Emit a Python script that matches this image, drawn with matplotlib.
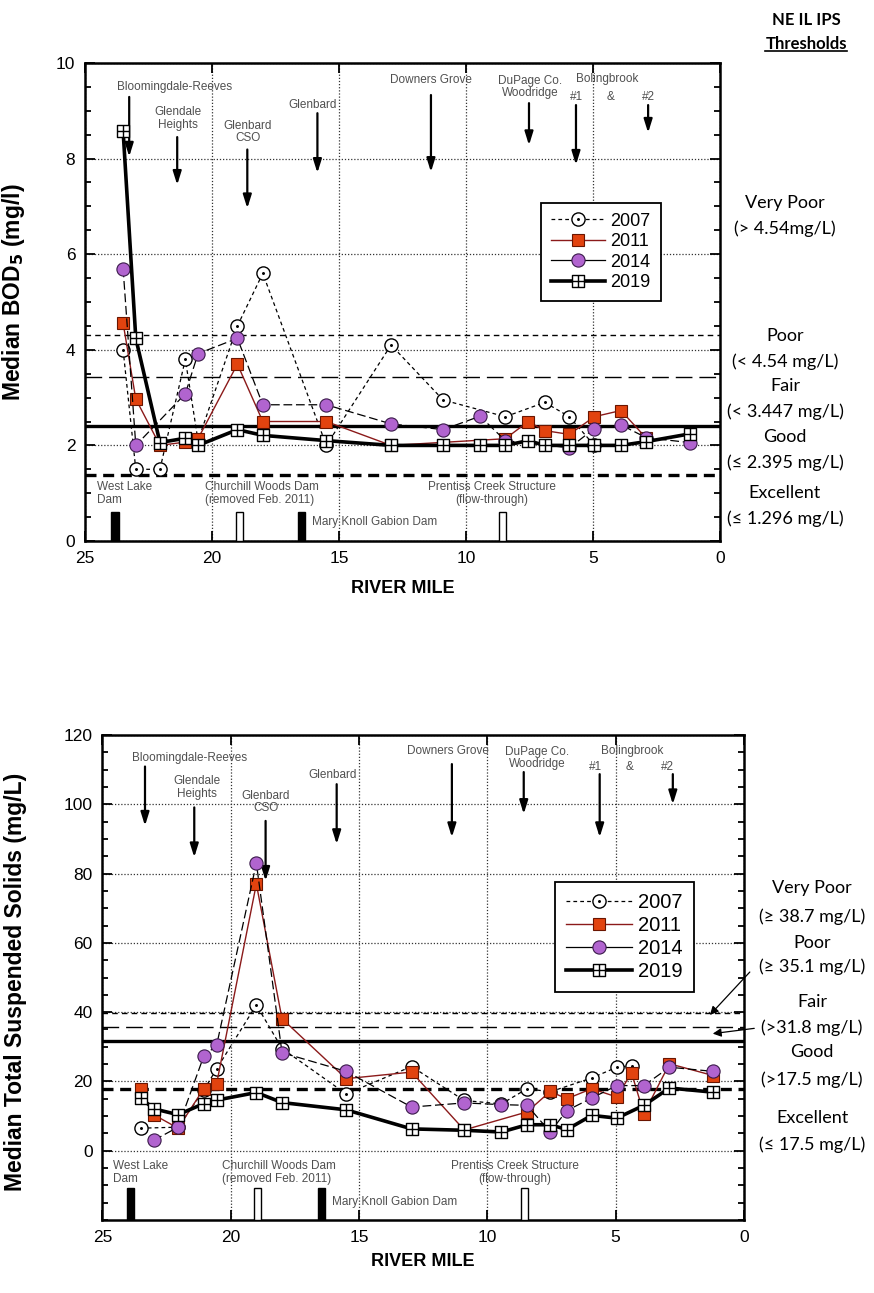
import numpy as np
import matplotlib
matplotlib.use("Agg")
import matplotlib.pyplot as plt
from matplotlib.path import Path
from matplotlib.lines import Line2D
from matplotlib.ticker import MultipleLocator

# ---------------- data ----------------
miles = [23.5, 23.0, 22.05, 21.05, 20.55, 19.0, 18.0, 15.5, 12.95, 10.9,
         9.45, 8.45, 7.55, 6.9, 5.93, 4.95, 4.38, 3.9, 2.9, 1.2]
nan = np.nan
bod_2007 = [4.0, 1.5, 1.5, 3.8, 2.1, 4.5, 5.6, 2.0, 4.1, 2.95,
            nan, 2.6, nan, 2.9, 2.6, 2.0, nan, nan, nan, nan]
bod_2011 = [4.56, 2.97, 2.0, 2.07, 2.14, 3.7, 2.5, 2.5, 2.0, nan,
            nan, 2.14, 2.5, 2.31, 2.23, 2.6, nan, 2.73, 2.15, nan]
bod_2014 = [5.7, 2.0, nan, 3.08, 3.92, 4.24, 2.85, 2.85, 2.45, 2.33,
            2.61, 2.1, nan, nan, 1.95, 2.35, nan, 2.43, 2.16, 2.06]
bod_2019 = [8.58, 4.24, 2.06, 2.15, 2.0, 2.33, 2.21, 2.1, 2.0, 2.0,
            2.0, 2.0, 2.1, 2.0, 2.0, 2.0, nan, 2.0, 2.08, 2.24]

tss_2007 = [6.5, nan, 6.8, 17.5, 23.6, 42.1, 29.5, 16.4, 24.3, 14.5,
            13.5, 17.9, 17.0, nan, 21.0, 24.1, 24.5, nan, nan, nan]
tss_2011 = [17.7, 10.4, 6.5, 17.9, 19.3, 77.0, 38.1, 20.8, 22.7, 6.0,
            nan, 11.2, 17.1, 15.0, 17.9, 15.5, 22.5, 10.7, 25.1, 21.7]
tss_2014 = [nan, 3.0, 6.8, 27.3, 30.4, 83.0, 28.3, 22.9, 12.6, 13.8,
            13.3, 13.1, 5.4, 11.6, 15.2, 18.8, nan, 18.8, 24.1, 22.9]
tss_2019 = [15.2, 12.1, 10.4, 13.6, 14.6, 16.8, 13.9, 11.8, 6.3, 5.9,
            5.4, 7.5, 7.5, 6.1, 10.2, 9.4, nan, 13.1, 18.1, 16.9]

years = ["2007", "2011", "2014", "2019"]
bod_thresholds = [4.3, 3.43, 2.4, 1.38]     # drawn lines (VP, Poor/Fair, Good, Excellent)
tss_thresholds = [39.7, 35.7, 31.6, 17.8]

dam_names = ["West Lake\nDam", "Churchill Woods Dam\n(removed Feb. 2011)",
             "Mary Knoll Gabion Dam", "Prentiss Creek Structure\n(flow-through)"]
dam_miles_top = [23.82, 18.9, 16.46, 8.58]
dam_miles_bot = [23.92, 18.94, 16.45, 8.54]
dam_filled = [True, False, True, False]

# ---------------- styles ----------------
RED = "#E2430F"
PURPLE = "#B164CF"
GRAY = "#505050"
TXT = ["Liberation Sans Narrow", "Liberation Sans", "DejaVu Sans"]
CAL = ["Lato", "DejaVu Sans"]
plt.rcParams["font.family"] = ["Liberation Sans", "DejaVu Sans"]

circ_dot = Path.make_compound_path(Path.unit_circle(), Path.circle((0, 0), 0.12))
sq_plus = Path([(-1, -1), (1, -1), (1, 1), (-1, 1), (-1, -1), (0, -1), (0, 1), (-1, 0), (1, 0)],
               [Path.MOVETO, Path.LINETO, Path.LINETO, Path.LINETO, Path.CLOSEPOLY,
                Path.MOVETO, Path.LINETO, Path.MOVETO, Path.LINETO])

MS = 9
styles = {
    "2007": dict(color="black", lw=0.9, ls=(0, (3, 2.5)), marker=circ_dot, mfc="white", mec="black", mew=1.0, ms=MS + 0.5, zorder=4),
    "2011": dict(color="#8B1A1A", lw=1.0, ls="-", marker="s", mfc=RED, mec="#6a1500", mew=0.8, ms=MS, zorder=5),
    "2014": dict(color="black", lw=0.9, ls=(0, (7, 3)), marker="o", mfc=PURPLE, mec="#3a1a4a", mew=0.8, ms=MS + 0.5, zorder=6),
    "2019": dict(color="black", lw=2.6, ls="-", marker=sq_plus, mfc="white", mec="black", mew=1.0, ms=MS, zorder=7),
}

fig = plt.figure(figsize=(8.74, 12.93), dpi=100)
W, H = 874.0, 1293.0
ax1 = fig.add_axes([85 / W, 1 - 541 / H, 635 / W, 478 / H])
ax2 = fig.add_axes([102.4 / W, 1 - 1220 / H, 641.5 / W, 485 / H])


def plot_series(ax, vals_list):
    x = np.array(miles)
    for yr, vals in zip(years, vals_list):
        v = np.array(vals, dtype=float)
        m = ~np.isnan(v)
        ax.plot(x[m], v[m], **styles[yr])


def style_axes(ax, ymin, ymax, ymaj, ymin_step):
    ax.set_xlim(25, 0)
    ax.set_ylim(ymin, ymax)
    ax.xaxis.set_major_locator(MultipleLocator(5))
    ax.yaxis.set_major_locator(MultipleLocator(ymaj))
    ax.yaxis.set_minor_locator(MultipleLocator(ymin_step))
    ax.tick_params(which="both", direction="in", top=True, right=True, labelsize=12.5, width=1.3)
    ax.tick_params(which="major", length=7, pad=7)
    ax.tick_params(which="minor", length=4)
    ax.tick_params(axis="x", which="minor", bottom=False, top=False)
    for s in ax.spines.values():
        s.set_linewidth(1.8)
    ax.grid(True, which="major", ls=(0, (1, 1.5)), lw=0.9, color="#333333")


def thresholds(ax, vals):
    ax.axhline(vals[0], color="black", lw=1.0, ls=(0, (4, 3)), zorder=2)
    ax.axhline(vals[1], color="black", lw=1.0, ls=(0, (12, 5)), zorder=2)
    ax.axhline(vals[2], color="black", lw=2.4, ls="-", zorder=2)
    ax.axhline(vals[3], color="black", lw=2.4, ls=(0, (3.3, 2)), zorder=2)


def arrows(ax, arrs):
    for x, y0, y1 in arrs:
        ax.annotate("", xy=(x, y1), xytext=(x, y0),
                    arrowprops=dict(arrowstyle="-|>,head_length=0.8,head_width=0.25",
                                    color="black", lw=1.6, shrinkA=0, shrinkB=0), zorder=3)


def labels(ax, labs):
    for t, x, y in labs:
        ax.text(x, y, t, ha="center", va="center", fontsize=8.5, color=GRAY,
                family=TXT, linespacing=1.05, zorder=3)


def dams(ax, xs, y0, h, name_pos):
    for x, f in zip(xs, dam_filled):
        ax.bar(x, h, width=0.28, bottom=y0, color="black" if f else "white",
               edgecolor="black", linewidth=1.0, zorder=3)
    for name, (x, y, ha) in zip(dam_names, name_pos):
        ax.text(x, y, name, ha=ha, va="center", fontsize=8.5, color=GRAY,
                family=TXT, linespacing=1.15, zorder=3)


# ---------------- top chart ----------------
style_axes(ax1, 0, 10, 2, 0.5)
thresholds(ax1, bod_thresholds)
plot_series(ax1, [bod_2007, bod_2011, bod_2014, bod_2019])
labels(ax1, [("Bloomingdale-Reeves", 21.46, 9.49), ("Glendale\nHeights", 21.33, 8.84),
             ("Glenbard\nCSO", 18.59, 8.56), ("Glenbard", 16.04, 9.12),
             ("Downers Grove", 11.38, 9.64), ("DuPage Co.\nWoodridge", 7.48, 9.5),
             ("Bolingbrook", 4.45, 9.66), ("#1", 5.63, 9.29), ("&", 4.29, 9.29), ("#2", 2.83, 9.29)])
arrows(ax1, [(23.26, 9.29, 8.04), (21.37, 8.45, 7.45), (18.61, 8.19, 6.96), (15.85, 8.95, 7.7),
             (11.38, 9.33, 7.72), (7.52, 9.16, 8.28), (5.67, 9.12, 7.87), (2.83, 9.12, 8.54)])
dams(ax1, dam_miles_top, 0, 0.6,
     [(24.53, 1.0, "left"), (20.28, 1.0, "left"), (16.06, 0.4, "left"), (8.98, 1.0, "center")])
ax1.set_xlabel("RIVER MILE", fontsize=13, fontweight="bold")
ax1.xaxis.set_label_coords(0.5, -0.082)
ax1.set_ylabel(r"Median BOD$_\mathbf{5}$ (mg/l)", fontsize=16.5, fontweight="bold")
ax1.yaxis.set_label_coords(-0.092, 0.52)

# ---------------- bottom chart ----------------
style_axes(ax2, -20, 120, 20, 5)
ax2.set_yticks([0, 20, 40, 60, 80, 100, 120])
ax2.set_yticks(np.arange(-20, 121, 5), minor=True)
thresholds(ax2, tss_thresholds)
plot_series(ax2, [tss_2007, tss_2011, tss_2014, tss_2019])
labels(ax2, [("Bloomingdale-Reeves", 21.59, 113.5), ("Glendale\nHeights", 21.33, 104.9),
             ("Glenbard\nCSO", 18.63, 100.6), ("Glenbard", 16.03, 108.4),
             ("Downers Grove", 11.53, 115.3), ("DuPage Co.\nWoodridge", 8.07, 113.3),
             ("Bolingbrook", 4.37, 115.3), ("#1", 5.77, 110.7), ("&", 4.45, 110.7), ("#2", 2.97, 110.7)])
arrows(ax2, [(23.34, 110.9, 93.8), (21.42, 99.1, 84.7), (18.64, 95.2, 77.9), (15.87, 105.8, 88.5),
             (11.38, 111.6, 90.5), (8.58, 109.3, 97.2), (5.62, 108.7, 90.5), (2.77, 108.7, 100)])
dams(ax2, dam_miles_bot, -20, 9.3,
     [(24.59, -6.2, "left"), (20.34, -6.2, "left"), (16.06, -14.7, "left"), (8.93, -6.2, "center")])
ax2.set_xlabel("RIVER MILE", fontsize=13, fontweight="bold")
ax2.xaxis.set_label_coords(0.5, -0.068)
ax2.set_ylabel("Median Total Suspended Solids (mg/L)", fontsize=16.5, fontweight="bold")
ax2.yaxis.set_label_coords(-0.117, 0.49)

# ---------------- legends ----------------
handles = [Line2D([], [], **{k: v for k, v in styles[y].items() if k != "zorder"}) for y in years]
handles[2].set_linestyle("-")
for ax, anchor, fs, hl in [(ax1, (0.718, 0.708), 13, 3.0), (ax2, (0.705, 0.697), 14.5, 3.3)]:
    lg = ax.legend(handles, years, loc="upper left", bbox_to_anchor=anchor, fontsize=fs,
                   frameon=True, fancybox=False, framealpha=1, edgecolor="black",
                   handlelength=hl, handletextpad=0.3, labelspacing=0.2, borderpad=0.55,
                   borderaxespad=0)
    lg.get_frame().set_linewidth(1.3)
    lg.set_zorder(10)

# ---------------- right side threshold texts ----------------
def ftext(px, py, s, **kw):
    return fig.text(px / W, 1 - py / H, s, ha="center", va="center", family=CAL, **kw)

ftext(806, 20, "NE IL IPS", fontsize=12, fontweight="bold")
t_th = ftext(806, 44, "Thresholds", fontsize=12, fontweight="bold")

top_texts = [("Very Poor", 203), ("(> 4.54mg/L)", 229), ("Poor", 336), ("(< 4.54 mg/L)", 362),
             ("Fair", 386), ("(< 3.447 mg/L)", 412), ("Good", 437), ("(\u2264 2.395 mg/L)", 463),
             ("Excellent", 493), ("(\u2264 1.296 mg/L)", 519)]
for s, py in top_texts:
    ftext(785, py, s, fontsize=13)

bot_texts = [("Very Poor", 888), ("(\u2265 38.7 mg/L)", 917), ("Poor", 943), ("(\u2265 35.1 mg/L)", 967),
             ("Fair", 1002), ("(>31.8 mg/L)", 1028), ("Good", 1052), ("(>17.5 mg/L)", 1080),
             ("Excellent", 1118), ("(\u2264 17.5 mg/L)", 1145)]
for s, py in bot_texts:
    ftext(812, py, s, fontsize=13)

fig.patches.append(matplotlib.patches.FancyArrowPatch(
    (751.7 / W, 1 - 970 / H), (708 / W, 1 - 1017 / H), transform=fig.transFigure,
    arrowstyle="-|>,head_length=5,head_width=2.5", color="black", lw=0.9))
fig.patches.append(matplotlib.patches.FancyArrowPatch(
    (757 / W, 1 - 1028 / H), (710 / W, 1 - 1034 / H), transform=fig.transFigure,
    arrowstyle="-|>,head_length=5,head_width=2.5", color="black", lw=0.9))

# underline "Thresholds"
fig.canvas.draw()
bb = t_th.get_window_extent().transformed(fig.transFigure.inverted())
fig.add_artist(Line2D([bb.x0, bb.x1], [bb.y0 + 0.001, bb.y0 + 0.001], color="black",
                      lw=1.2, transform=fig.transFigure))

fig.savefig("out.png", dpi=100)
